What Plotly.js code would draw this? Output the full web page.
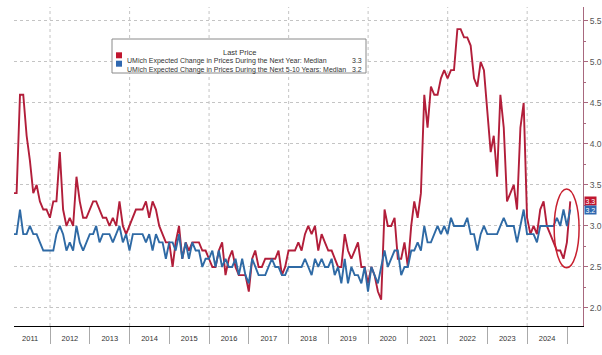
<!DOCTYPE html>
<html><head><meta charset="utf-8">
<script src="https://cdn.plot.ly/plotly-3.0.1.min.js"></script>
<style>html,body{margin:0;padding:0;background:#fff}#chart{width:602px;height:355px}</style>
</head><body><div id="chart"></div>
<script>
// Monthly observations, Jan 2011 .. Jan 2025
const firstYear = 2011;
const oneYearAhead = [
  3.4,3.4,4.6,4.6,4.1,3.8,3.4,3.5,3.3,3.2,3.2,3.1,
  3.3,3.3,3.9,3.2,3.0,3.1,3.0,3.6,3.3,3.1,3.1,3.2,
  3.3,3.3,3.2,3.1,3.1,3.0,3.1,3.0,3.3,3.0,2.9,3.0,
  3.1,3.2,3.2,3.2,3.3,3.1,3.3,3.2,3.0,2.9,2.8,2.8,
  2.5,2.8,3.0,2.6,2.8,2.7,2.8,2.8,2.8,2.7,2.7,2.6,
  2.5,2.5,2.7,2.8,2.4,2.6,2.7,2.5,2.4,2.4,2.4,2.2,
  2.6,2.7,2.5,2.5,2.6,2.6,2.6,2.6,2.7,2.4,2.5,2.7,
  2.7,2.7,2.8,2.7,2.9,3.0,2.9,3.0,2.7,2.9,2.8,2.7,
  2.7,2.6,2.5,2.5,2.9,2.7,2.6,2.7,2.8,2.5,2.5,2.3,
  2.5,2.4,2.2,2.1,3.2,3.0,3.0,3.1,2.6,2.6,2.8,2.5,
  3.0,3.3,3.1,3.4,4.6,4.2,4.7,4.6,4.6,4.8,4.9,4.8,
  4.9,4.9,5.4,5.4,5.3,5.3,5.2,4.8,4.7,5.0,4.9,4.4,
  3.9,4.1,3.6,4.6,4.2,3.3,3.4,3.5,3.2,4.2,4.5,3.1,
  2.9,3.0,2.9,3.2,3.3,3.0,2.9,2.8,2.7,2.7,2.6,2.8,
  3.3
];
const fiveToTen = [
  2.9,2.9,3.2,2.9,2.9,3.0,2.9,2.9,2.8,2.7,2.7,2.7,
  2.7,2.9,3.0,2.9,2.7,2.8,2.7,3.0,2.8,2.7,2.8,2.9,
  2.9,3.0,2.8,2.9,2.9,2.9,2.8,2.9,3.0,2.8,2.9,2.7,
  2.9,2.9,2.9,2.9,2.8,2.9,2.7,2.9,2.8,2.8,2.6,2.8,
  2.8,2.7,2.9,2.6,2.8,2.6,2.8,2.7,2.7,2.5,2.6,2.6,
  2.7,2.5,2.7,2.5,2.6,2.5,2.5,2.6,2.4,2.6,2.4,2.3,
  2.6,2.5,2.4,2.4,2.4,2.5,2.6,2.5,2.5,2.4,2.4,2.5,
  2.5,2.5,2.5,2.5,2.6,2.5,2.4,2.6,2.5,2.6,2.5,2.5,
  2.6,2.4,2.5,2.3,2.6,2.3,2.5,2.4,2.4,2.3,2.5,2.2,
  2.5,2.4,2.3,2.5,2.7,2.5,2.6,2.7,2.7,2.4,2.5,2.5,
  2.7,2.7,2.8,2.7,3.0,2.8,2.8,2.9,3.0,2.9,3.0,2.9,
  3.1,3.0,3.0,3.0,3.0,3.1,2.9,2.9,2.7,2.9,3.0,2.9,
  2.9,2.9,2.9,3.0,3.1,3.0,3.0,3.0,2.8,3.0,3.2,2.9,
  2.9,2.9,2.8,3.0,3.0,3.0,3.0,3.0,3.1,3.0,3.2,3.0,
  3.2
];
const seriesNames = [
  "UMich Expected Change in Prices During the Next Year: Median",
  "UMich Expected Change in Prices During the Next 5-10 Years: Median"
];
const gridYears = [2012,2014,2016,2018,2020,2022,2024];

const RED = '#b21e3a', BLUE = '#2f6aa5', AXC = '#a8687e';
function monthEnd(i){ return new Date(Date.UTC(firstYear, i+1, 0)).toISOString().slice(0,10); }
const months = oneYearAhead.map((_, i) => monthEnd(i));
const lastRed = oneYearAhead[oneYearAhead.length-1];
const lastBlue = fiveToTen[fiveToTen.length-1];

const FONT = '"Liberation Sans", Arial, sans-serif';

const traces = [
  {x: months, y: oneYearAhead, type:'scatter', mode:'lines', name: seriesNames[0], line:{color:RED, width:1.9}, hoverinfo:'skip'},
  {x: months, y: fiveToTen, type:'scatter', mode:'lines', name: seriesNames[1], line:{color:BLUE, width:1.9}, hoverinfo:'skip'}
];

const shapes = gridYears.map(yr => ({type:'line', xref:'x', yref:'paper', x0: yr+'-01-01', x1: yr+'-01-01', y0:0, y1:1,
  line:{color:'#c4c4c4', width:1, dash:'dot'}, layer:'below'}));
// legend box
const px = v => (v-14)/569, py = v => (326-v)/319;
shapes.push({type:'rect', xref:'paper', yref:'paper', x0:px(112), x1:px(366), y0:py(73), y1:py(39), line:{color:'#8a8a8a', width:1}, fillcolor:'#fff'});
shapes.push({type:'rect', xref:'paper', yref:'paper', x0:px(116), x1:px(122), y0:py(58.3), y1:py(52.3), line:{width:0}, fillcolor:'#c0162f'});
shapes.push({type:'rect', xref:'paper', yref:'paper', x0:px(116), x1:px(122), y0:py(66.7), y1:py(60.7), line:{width:0}, fillcolor:'#2f68b0'});
// highlight ellipse
shapes.push({type:'circle', xref:'x', yref:'y', x0:'2024-09-05', x1:'2025-04-22', y0:2.49, y1:3.45, line:{color:'#c8202f', width:1.5}});

const lf = {family:FONT, size:7, color:'#333'};
const annotations = [
  {xref:'paper', yref:'paper', x:px(239), y:py(46), text:'Last Price', showarrow:false, font:{family:FONT, size:7.5, color:'#333'}},
  {xref:'paper', yref:'paper', x:px(125), y:py(55.3), xanchor:'left', text:seriesNames[0], showarrow:false, font:lf},
  {xref:'paper', yref:'paper', x:px(125), y:py(63.7), xanchor:'left', text:seriesNames[1], showarrow:false, font:lf},
  {xref:'paper', yref:'paper', x:px(364), y:py(55.3), xanchor:'right', text:lastRed.toFixed(1), showarrow:false, font:lf},
  {xref:'paper', yref:'paper', x:px(364), y:py(63.7), xanchor:'right', text:lastBlue.toFixed(1), showarrow:false, font:lf},
  {xref:'paper', yref:'y', x:1, y:lastRed, xanchor:'left', xshift:1, text:lastRed.toFixed(1), showarrow:false, bgcolor:'#c0162f', borderpad:0.5, font:{family:FONT, size:7, color:'#fff'}},
  {xref:'paper', yref:'y', x:1, y:lastBlue, xanchor:'left', xshift:1, text:lastBlue.toFixed(1), showarrow:false, bgcolor:'#2f68b0', borderpad:0.5, font:{family:FONT, size:7, color:'#fff'}}
];

const layout = {
  width:602, height:355,
  margin:{l:14, r:19, t:7, b:29},
  paper_bgcolor:'#fff', plot_bgcolor:'#fff',
  showlegend:false,
  font:{family:FONT},
  xaxis:{type:'date', range:['2011-02-04','2025-05-28'], tick0:'2011-01-01', dtick:'M12', ticklabelmode:'period', tickformat:'%Y',
    ticks:'outside', ticklen:17, tickcolor:'#aaa', tickwidth:1, ticklabelstandoff:-12,
    showgrid:false, zeroline:false, showline:true, linecolor:'#000', linewidth:1,
    tickfont:{family:FONT, size:7.5, color:'#333'}, fixedrange:true},
  yaxis:{side:'right', range:[1.78,5.67], tick0:0, dtick:0.5, tickformat:'.1f',
    ticks:'outside', ticklen:4, tickcolor:AXC, showline:true, linecolor:AXC, linewidth:1,
    showgrid:true, gridcolor:'#c4c4c4', griddash:'dot', gridwidth:1, zeroline:false,
    minor:{dtick:0.25, ticks:'outside', ticklen:2, tickcolor:AXC, showgrid:false},
    tickfont:{family:FONT, size:8.5, color:'#555'}, fixedrange:true},
  shapes, annotations
};

Plotly.newPlot('chart', traces, layout, {displayModeBar:false, staticPlot:true});
</script></body></html>
